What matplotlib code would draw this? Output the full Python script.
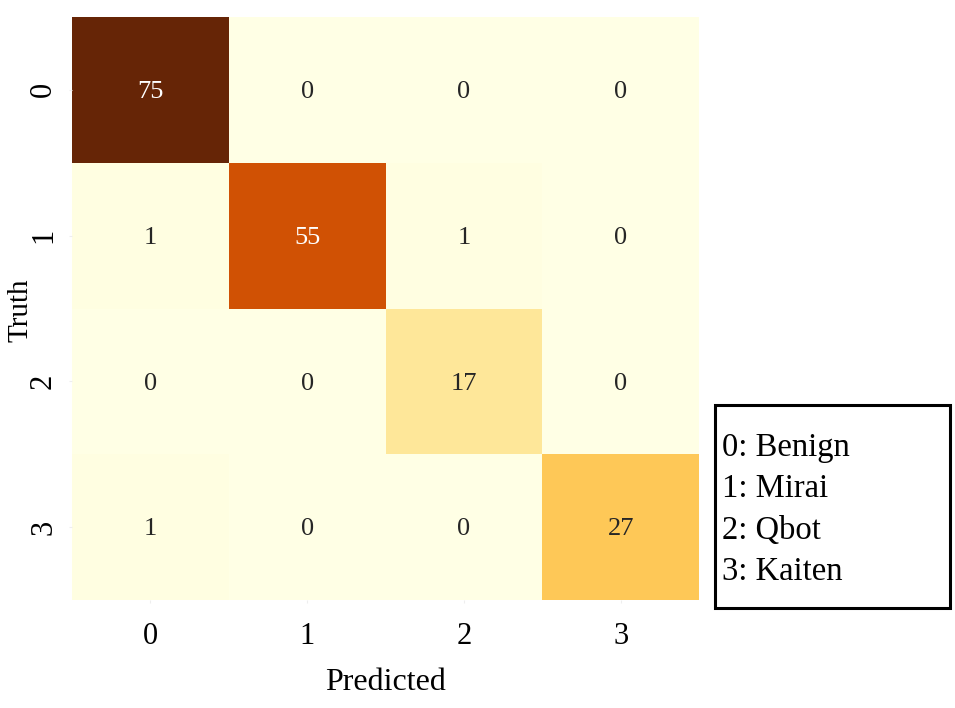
import matplotlib
matplotlib.use("Agg")
import matplotlib.pyplot as plt
import numpy as np
import seaborn as sns
from matplotlib.patches import Rectangle

classes = ["0", "1", "2", "3"]
class_names = ["Benign", "Mirai", "Qbot", "Kaiten"]
cm = np.array([
    [75, 0, 0, 0],
    [1, 55, 1, 0],
    [0, 0, 17, 0],
    [1, 0, 0, 27],
])

plt.rcParams['font.family'] = ['Liberation Serif', 'DejaVu Serif']

fig = plt.figure(figsize=(9.55, 7.08), dpi=100)
ax = fig.add_axes([72/955, 1 - 600/708, (699-72)/955, (600-17)/708])

sns.heatmap(cm, ax=ax, cmap="YlOrBr", vmin=0, vmax=75, annot=True, fmt="d",
            cbar=False, annot_kws={"fontsize": 19},
            xticklabels=classes, yticklabels=classes)
for t in ax.texts:
    x, y = t.get_position()
    t.set_position((x, y + 0.015))

ax.tick_params(axis='both', labelsize=22, length=2, color='#eeeeee')
ax.tick_params(axis='x', pad=14)
ax.tick_params(axis='y', pad=8)
ax.set_yticklabels(classes, rotation=90, va='center')
ax.set_xticklabels(classes, rotation=0)
ax.set_xlabel("Predicted", fontsize=23, labelpad=12)
ax.set_ylabel("")
fig.text(21/955, 1 - 310/708, "Truth", fontsize=21, rotation=90,
         ha='center', va='center')

# legend box
x0, y0, x1, y1 = 715, 405, 950, 608
fig.patches.append(Rectangle((x0/955, 1 - y1/708), (x1-x0)/955, (y1-y0)/708,
                             transform=fig.transFigure, fill=False,
                             edgecolor='black', linewidth=2.2))
ys = [448, 489, 531, 572]
for c, n, yy in zip(classes, class_names, ys):
    fig.text(722/955, 1 - yy/708, f"{c}: {n}", fontsize=23.5, va='center', ha='left')

fig.savefig("out.png", dpi=100)
